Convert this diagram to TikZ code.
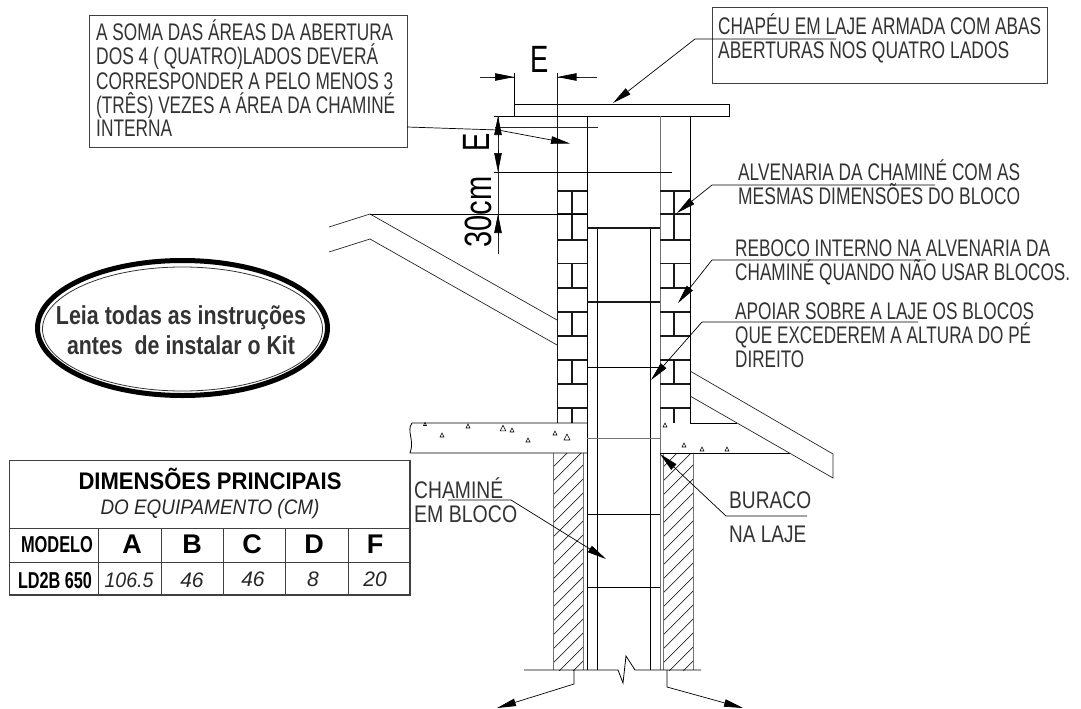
\documentclass[tikz,border=0pt]{standalone}
\usepackage{fontspec}
\setmainfont{Liberation Sans}
\usetikzlibrary{arrows.meta}
\newsavebox{\fitbox}
% width, size, text
\newcommand{\fitw}[3]{\fontsize{#2}{#2}\selectfont\sbox{\fitbox}{#3}\pgfmathsetmacro{\fitratio}{#1/\the\wd\fitbox}\scalebox{\fitratio}[1]{\usebox{\fitbox}}}
\newcommand{\nsz}{24}
\tikzset{
  note/.style={anchor=base west,inner sep=0pt,text=black!80},
  ctext/.style={anchor=base,inner sep=0pt,text=black},
  ln/.style={line width=0.8pt,black},
  thin line/.style={line width=0.7pt,black!85},
  heavy/.style={line width=1.3pt,black!90},
  grayln/.style={line width=1pt,black!55},
  leader/.style={line width=0.7pt,black,-{Triangle[length=19pt,width=7.5pt]}},
  dimtip/.style={line width=0.7pt,black,-{Triangle[length=19pt,width=7.5pt]}},
  box/.style={line width=0.9pt,black!75},
}
\begin{document}
\begin{tikzpicture}[x=1pt,y=-1pt]
\useasboundingbox (0,0) rectangle (1081,709);
% --- note boxes
\draw[box] (89,15) rectangle (407,147);
\draw[box] (712,7) rectangle (1047,83);
% --- named leader ends
\coordinate (la) at (407,127); \coordinate (lb) at (498,130); \coordinate (lc) at (570,143.5);
\coordinate (ca) at (836,39); \coordinate (cb) at (695,39); \coordinate (cc) at (613,103);
\coordinate (aa) at (935,185); \coordinate (ab) at (712,185); \coordinate (ac) at (677,213);
\coordinate (ra) at (926,260); \coordinate (rb) at (712,260); \coordinate (rc) at (678,303);
\coordinate (pa) at (918,322); \coordinate (pb) at (702,322); \coordinate (pc) at (651,380);
\coordinate (ba) at (807,516); \coordinate (bb) at (726,516); \coordinate (bc) at (660,454);
\coordinate (da) at (448,500); \coordinate (db) at (511,500); \coordinate (dc) at (606,559);
% --- hatching below the slab
\begin{scope}
  \clip (553,453) rectangle (583,670);
  \foreach \k in {0,14,...,280} \draw[thin line] (553,453+\k) -- (593,413+\k);
\end{scope}
\begin{scope}
  \clip (663,453) rectangle (693,670);
  \foreach \k in {0,14,...,280} \draw[thin line] (663,453+\k) -- (703,413+\k);
\end{scope}
\draw[grayln] (553,453) -- (553,670) (583,453) -- (583,670) (663,453) -- (663,670) (693,453) -- (693,670);
% --- cap slab
\draw[ln] (514,73) -- (514,116);
\draw[ln] (514,104) -- (729,104) -- (729,116) -- (494,116);
% --- walls
\draw[heavy] (557.5,73) -- (557.5,423);
\draw[ln] (587,116) -- (587,670);
\draw[grayln] (660,116) -- (660,670);
\draw[ln] (690,116) -- (690,423);
\draw[ln] (597,228) -- (597,670) (650,228) -- (650,670);
\draw[heavy] (587,228) -- (660,228);
% --- brick courses
\foreach \cy in {191,214,240,263.5,288,312,336,360,384,408}{
  \draw[heavy] (557.5,\cy) -- (587,\cy);
  \draw[heavy] (660,\cy) -- (690,\cy);
}
\foreach \ya/\yb in {191/214,214/240,263.5/288,312/336,360/384,408/423}{
  \draw[heavy] (572,\ya) -- (572,\yb);
  \draw[heavy] (674,\ya) -- (674,\yb);
}
% --- block joints
\draw[heavy] (587,302) -- (660,302);
\draw[ln] (587,367) -- (660,367);
\draw[grayln] (587,438) -- (660,438);
\draw[ln] (587,514) -- (660,514);
\draw[ln] (587,587) -- (660,587);
% --- slab
\draw[ln] (587,423) -- (412,423) .. controls (406,431) and (415,440) .. (410,453) -- (587,453);
\draw[ln] (690,423) -- (737,423);
\draw[ln] (660,453) -- (790,453);
\foreach \tx/\ty/\ts in {425/424/1.5,442/435/2,468/426/2,503/428/2.8,512/430/2,528/440/2,555/433/2,567/437/3,665/425/2,684/445/2,702/449/2,727/449/2}{
  \draw[line width=0.6pt] (\tx-\ts,\ty+\ts) -- (\tx+\ts,\ty+\ts) -- (\tx,\ty-\ts) -- cycle;
}
% --- roofs
\draw[thin line] (329,227) -- (370,214) -- (557,320);
\draw[thin line] (329,252) -- (370,239) -- (557,345);
\draw[thin line] (690,371) -- (833,454) -- (833,478) -- (690,396);
% --- ground line with break
\draw[ln] (524,670) -- (618,670) -- (623,683) -- (626,656) -- (635,670) -- (701,670);
\coordinate (ga) at (574,670); \coordinate (gb) at (574,684); \coordinate (gc) at (497,708);
\coordinate (ha) at (667,670); \coordinate (hb) at (667,687); \coordinate (hc) at (743,708);
\draw[leader] (ga) -- (gb) -- (gc);
\draw[leader] (ha) -- (hb) -- (hc);
% --- dimension lines
\draw[ln] (494,172) -- (672,172);
\draw[thin line] (495,127.5) -- (598,127.5);
\draw[ln] (370,214) -- (587,214);
\draw[thin line] (498,116) -- (498,254);
\draw[dimtip] (498,137) -- (498,116);
\draw[dimtip] (498,150) -- (498,172);
\draw[dimtip] (498,236) -- (498,214);
\draw[thin line] (480,77) -- (514,77) (557.5,77) -- (597,77);
\draw[dimtip] (493,77) -- (514,77);
\draw[dimtip] (579,77) -- (557.5,77);
\node[ctext] (dimE) at (540,73) {\fontsize{38}{38}\selectfont\scalebox{0.72}[1]{E}};
\node[ctext,rotate=90] (dimEb) at (489,142) {\fontsize{38}{38}\selectfont\scalebox{0.72}[1]{E}};
\node[ctext,rotate=90] (dim30) at (491,212) {\fitw{71}{38}{30cm}};
% --- leaders
\draw[leader] (la) -- (lb) -- (lc);
\draw[leader] (ca) -- (cb) -- (cc);
\draw[leader] (aa) -- (ab) -- (ac);
\draw[leader] (ra) -- (rb) -- (rc);
\draw[leader] (pa) -- (pb) -- (pc);
\draw[leader] (ba) -- (bb) -- (bc);
\draw[leader] (da) -- (db) -- (dc);
% --- note texts
\node[note] (a1) at (96,40.7) {\fitw{297}{\nsz}{A SOMA DAS ÁREAS DA ABERTURA}};
\node[note] (a2) at (96,65) {\fitw{282}{\nsz}{DOS 4 ( QUATRO)LADOS DEVERÁ}};
\node[note] (a3) at (96,89.5) {\fitw{297}{\nsz}{CORRESPONDER A PELO MENOS 3}};
\node[note] (a4) at (96,113) {\fitw{299}{\nsz}{(TRÊS) VEZES A ÁREA DA CHAMINÉ}};
\node[note] (a5) at (96,136) {\fitw{76}{\nsz}{INTERNA}};
\node[note] (c1) at (718,35) {\fitw{323}{\nsz}{CHAPÉU EM LAJE ARMADA COM ABAS}};
\node[note] (c2) at (718,59) {\fitw{291}{\nsz}{ABERTURAS NOS QUATRO LADOS}};
\node[note] (v1) at (738,180) {\fitw{282}{\nsz}{ALVENARIA DA CHAMINÉ COM AS}};
\node[note] (v2) at (738,204) {\fitw{282}{\nsz}{MESMAS DIMENSÕES DO BLOCO}};
\node[note] (r1) at (735,256) {\fitw{315}{\nsz}{REBOCO INTERNO NA ALVENARIA DA}};
\node[note] (r2) at (735,280) {\fitw{335}{\nsz}{CHAMINÉ QUANDO NÃO USAR BLOCOS.}};
\node[note] (p1) at (735,319) {\fitw{299}{\nsz}{APOIAR SOBRE A LAJE OS BLOCOS}};
\node[note] (p2) at (735,343) {\fitw{296}{\nsz}{QUE EXCEDEREM A ALTURA DO PÉ}};
\node[note] (p3) at (735,367) {\fitw{69}{\nsz}{DIREITO}};
\node[note] (d1) at (414,498) {\fitw{89}{\nsz}{CHAMINÉ}};
\node[note] (d2) at (414,522) {\fitw{103}{\nsz}{EM BLOCO}};
\node[note] (b1) at (729,508) {\fitw{82}{\nsz}{BURACO}};
\node[note] (b2) at (729,542) {\fitw{77}{\nsz}{NA LAJE}};
% --- ellipse badge
\draw[line width=5pt,black] (182.5,328) ellipse [x radius=145,y radius=67.5];
\draw[line width=0.8pt,black!80] (182.5,329) ellipse [x radius=140,y radius=62];
\node[ctext,text=black!80] (e1) at (181,324) {\fitw{250}{26}{\bfseries Leia todas as instruções}};
\node[ctext,text=black!80] (e2) at (181,354) {\fitw{228}{26}{\bfseries antes\ \ de instalar o Kit}};
% --- table
\draw[line width=1pt,black!75] (9,460) -- (410,460);
\draw[line width=1pt,black!75] (9,460) -- (9,595);
\draw[line width=1.6pt,black!75] (9,595) -- (410,595) -- (410,460);
\draw[line width=0.9pt,black!75] (9,528) -- (410,528) (9,562) -- (410,562);
\foreach \cx in {98,161,223,285,348} \draw[line width=0.9pt,black!75] (\cx,528) -- (\cx,595);
\node[ctext] (t1) at (210,489) {\fitw{263}{24}{\bfseries DIMENSÕES PRINCIPAIS}};
\node[ctext,text=black!85] (t2) at (210,514) {\fitw{219}{21}{\itshape DO EQUIPAMENTO (CM)}};
\node[ctext] (h0) at (57,552) {\fitw{72}{23}{\bfseries MODELO}};
\node[ctext] (hA) at (132,553) {\fontsize{27}{27}\selectfont\bfseries A};
\node[ctext] (hB) at (192,553) {\fontsize{27}{27}\selectfont\bfseries B};
\node[ctext] (hC) at (252,553) {\fontsize{27}{27}\selectfont\bfseries C};
\node[ctext] (hD) at (314,553) {\fontsize{27}{27}\selectfont\bfseries D};
\node[ctext] (hF) at (375,553) {\fontsize{27}{27}\selectfont\bfseries F};
\node[ctext] (v0) at (55,588) {\fitw{74}{23}{\bfseries LD2B 650}};
\node[ctext,text=black!85] (vA) at (129,587) {\fitw{49}{21}{\itshape 106.5}};
\node[ctext,text=black!85] (vB) at (192,587) {\fontsize{21}{21}\selectfont\itshape 46};
\node[ctext,text=black!85] (vC) at (253,586) {\fontsize{21}{21}\selectfont\itshape 46};
\node[ctext,text=black!85] (vD) at (313,586) {\fontsize{21}{21}\selectfont\itshape 8};
\node[ctext,text=black!85] (vF) at (375,586) {\fontsize{21}{21}\selectfont\itshape 20};
\end{tikzpicture}
\end{document}
